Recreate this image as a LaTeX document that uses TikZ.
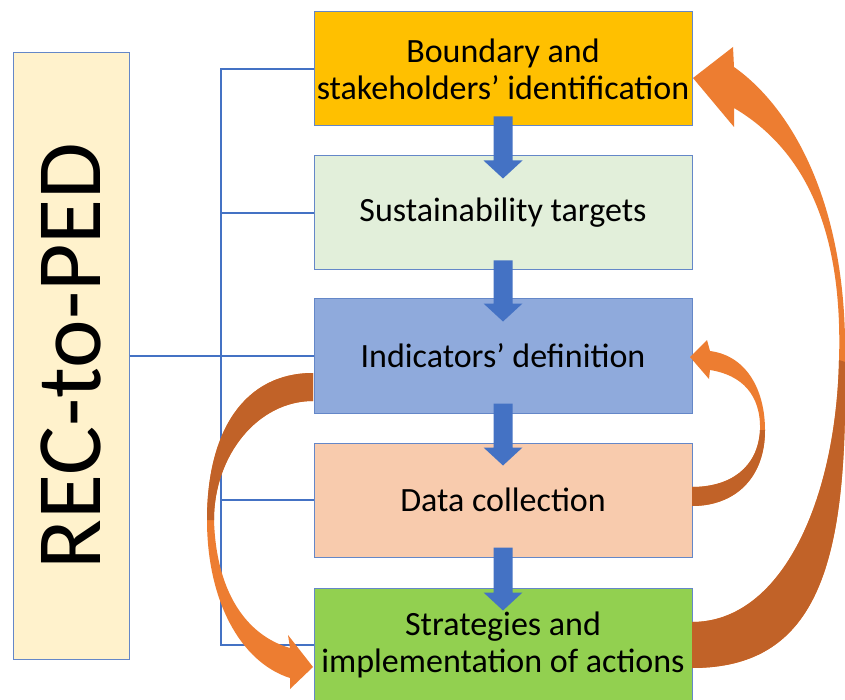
\documentclass[tikz,border=0pt]{standalone}
\usepackage{fontspec}
\setmainfont{Carlito}
\usetikzlibrary{calc}
\definecolor{lineblue}{RGB}{68,114,196}
\definecolor{borderblue}{RGB}{100,135,200}
\definecolor{arrowblue}{RGB}{68,114,196}
\definecolor{cA}{RGB}{255,192,0}
\definecolor{cB}{RGB}{226,239,218}
\definecolor{cC}{RGB}{143,170,220}
\definecolor{cD}{RGB}{248,203,173}
\definecolor{cE}{RGB}{146,208,80}
\definecolor{recfill}{RGB}{255,242,204}
\definecolor{orangeL}{RGB}{237,125,49}
\definecolor{orangeD}{RGB}{193,98,40}
\newcommand\blockdown[2]{%
  \fill[arrowblue] ($(#1.south)+(-9.5,-10)$) -- ($(#1.south)+(9.5,-10)$)
    -- ($(#2.north)+(9.5,5)$) -- ($(#2.north)+(19.5,5)$) -- ($(#2.north)+(0,23)$)
    -- ($(#2.north)+(-19.5,5)$) -- ($(#2.north)+(-9.5,5)$) -- cycle;}
\begin{document}
\begin{tikzpicture}[x=1pt,y=-1pt,
  stepbox/.style={draw=borderblue, line width=1pt, minimum width=378pt,
    minimum height=114pt, inner sep=0pt, align=center,
    font=\fontsize{34}{37}\selectfont},
  conn/.style={draw=lineblue, line width=1.1pt},
  recbox/.style={draw=borderblue, line width=1pt, fill=recfill,
    minimum width=116pt, minimum height=606pt, inner sep=0pt}]
\useasboundingbox (0,0) rectangle (845,700);
\fill[white] (0,0) rectangle (845,700);
% left box
\node[recbox] (rec) at (71,356) {};
\node[rotate=90, inner sep=0pt, font=\fontsize{92}{92}\selectfont] (rectext) at (rec.center) {REC-to-PED};
% step boxes (positions only)
\coordinate (bx) at (221,0);
\path (503,69) coordinate (p1) (503,213) coordinate (p2) (503,356) coordinate (p3)
      (503,500) coordinate (p4) (503,645) coordinate (p5);
% bracket connectors
\draw[conn] (p1 -| 314,0) -- (p1 -| bx) -- (p5 -| bx) -- (p5 -| 314,0);
\draw[conn] (p2 -| bx) -- (p2 -| 314,0);
\draw[conn] (p4 -| bx) -- (p4 -| 314,0);
\draw[conn] (rec.east) -- (p3 -| 314,0);
% boxes
\node[stepbox, fill=cA] (b1) at (p1) {Boundary and\\stakeholders’ identification};
\node[stepbox, fill=cB] (b2) at (p2) {Sustainability targets};
\node[stepbox, fill=cC] (b3) at (p3) {Indicators’ definition};
\node[stepbox, fill=cD] (b4) at (p4) {Data collection};
\node[stepbox, fill=cE] (b5) at (p5) {Strategies and\\implementation of actions};
% down arrows
\blockdown{b1}{b2}
\blockdown{b2}{b3}
\blockdown{b3}{b4}
\blockdown{b4}{b5}
% big right curved arrow: b5 -> b1
\fill[orangeL] (692,622) .. controls (782,622) and (836,500) .. (839,360)
   .. controls (843,230) and (805,150) .. (734,108) -- (734,127) -- (693,78)
   -- (733,47) -- (734,67) .. controls (795,110) and (848,210) .. (845,362)
   .. controls (848,560) and (820,668) .. (692,668) -- cycle;
\fill[orangeD] (692,622) .. controls (782,622) and (836,500) .. (839,360)
   -- (845,362) .. controls (848,560) and (820,668) .. (692,668) -- cycle;
% small right curved arrow: b4 -> b3
\fill[orangeL] (692,487) .. controls (730,487) and (758,468) .. (760,430)
   .. controls (761,395) and (742,375) .. (710,370) -- (709,379) -- (690,357)
   -- (707,340) -- (710,351) .. controls (748,356) and (765,392) .. (765,430)
   .. controls (765,478) and (735,506) .. (692,506) -- cycle;
\fill[orangeD] (692,487) .. controls (730,487) and (758,468) .. (760,430)
   -- (765,430) .. controls (765,478) and (735,506) .. (692,506) -- cycle;
% left curved arrow: b3 -> b5
\fill[orangeL] (313,373) .. controls (245,373) and (207,430) .. (207,520)
   .. controls (207,600) and (240,662) .. (290,678) -- (290,689) -- (313,667)
   -- (288,635) -- (290,648) .. controls (245,635) and (216,590) .. (214,520)
   .. controls (214,455) and (258,401) .. (313,401) -- cycle;
\fill[orangeD] (313,373) .. controls (245,373) and (207,430) .. (207,520)
   -- (214,520) .. controls (214,455) and (258,401) .. (313,401) -- cycle;
\end{tikzpicture}
\end{document}
